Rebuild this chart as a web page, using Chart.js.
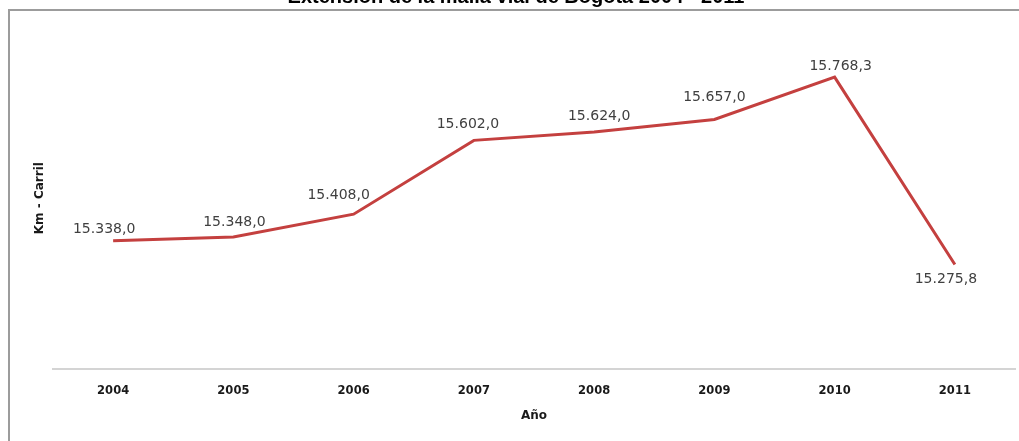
<!DOCTYPE html>
<html lang="es">
<head>
<meta charset="utf-8">
<title>Extensión de la malla vial de Bogotá</title>
<script src="https://cdn.jsdelivr.net/npm/chart.js@4/dist/chart.umd.min.js"></script>
<style>
  html, body { margin: 0; padding: 0; background: #fff; }
  #wrap { position: relative; width: 1019px; height: 441px; overflow: hidden; }
</style>
</head>
<body>
<div id="wrap"><canvas id="mallaChart"></canvas></div>
<script>
const years = ['2004', '2005', '2006', '2007', '2008', '2009', '2010', '2011'];
const kmCarril = [15338.0, 15348.0, 15408.0, 15602.0, 15624.0, 15657.0, 15768.3, 15275.8];

// hand-placed label nudges (px), the last one sits under its point
const labelDx = [-9, 1, -15, -6, 5, 0, 6, -9];
const labelDy = [-11, -15, -19, -16, -16, -22, -11, 15];

const chartTitle = 'Extensión de la malla vial de Bogotá 2004 - 2011';

// 15338 -> "15.338,0"
function fmtEs(v) {
  const [ent, dec] = v.toFixed(1).split('.');
  return ent.replace(/\B(?=(\d{3})+(?!\d))/g, '.') + ',' + dec;
}

// frame + cut-off title at the very top
const framePlugin = {
  id: 'frame',
  beforeDraw(chart) {
    const ctx = chart.ctx;
    ctx.save();
    ctx.strokeStyle = '#9c9c9c';
    ctx.lineWidth = 2;
    ctx.strokeRect(9, 10, chart.width + 20, chart.height + 20);
    ctx.fillStyle = '#000';
    ctx.font = 'bold 20px "Liberation Sans", Arial, sans-serif';
    ctx.textAlign = 'center';
    ctx.textBaseline = 'alphabetic';
    ctx.fillText(chartTitle, 516, 3);
    ctx.restore();
  }
};

const valueLabels = {
  id: 'valueLabels',
  afterDatasetsDraw(chart) {
    const ctx = chart.ctx;
    const meta = chart.getDatasetMeta(0);
    ctx.save();
    ctx.font = '14px "DejaVu Sans", sans-serif';
    ctx.fillStyle = '#404040';
    ctx.textAlign = 'center';
    ctx.textBaseline = 'middle';
    meta.data.forEach((pt, i) => {
      ctx.fillText(fmtEs(kmCarril[i]), pt.x + labelDx[i], pt.y + labelDy[i]);
    });
    ctx.restore();
  }
};

new Chart(document.getElementById('mallaChart'), {
  type: 'line',
  data: {
    labels: years,
    datasets: [{
      label: 'Km - Carril',
      data: kmCarril,
      borderColor: '#c4403f',
      borderWidth: 3,
      tension: 0,
      pointRadius: 0,
      fill: false
    }]
  },
  options: {
    responsive: true,
    maintainAspectRatio: false,
    animation: false,
    layout: { padding: { top: 27, right: 4, bottom: 18.4, left: 32.8 } },
    scales: {
      x: {
        offset: true,
        grid: { display: false, drawTicks: false },
        border: { display: true, color: '#d4d4d4', width: 2 },
        ticks: {
          color: '#1a1a1a',
          padding: 15,
          maxRotation: 0,
          font: { family: '"DejaVu Sans", sans-serif', size: 11.5, weight: 'bold' }
        },
        title: {
          display: true,
          text: 'Año',
          color: '#1a1a1a',
          padding: { top: -5, bottom: 0 },
          font: { family: '"DejaVu Sans", sans-serif', size: 12, weight: 'bold' }
        }
      },
      y: {
        min: 15000,
        max: 15900,
        grid: { display: false, drawTicks: false },
        border: { display: false },
        ticks: { display: false },
        title: {
          display: true,
          text: 'Km - Carril',
          color: '#1a1a1a',
          padding: { top: 0, bottom: 5.8 },
          font: { family: '"DejaVu Sans", sans-serif', size: 12, weight: 'bold' }
        }
      }
    },
    plugins: {
      legend: { display: false },
      tooltip: { enabled: false }
    }
  },
  plugins: [framePlugin, valueLabels]
});
</script>
</body>
</html>
